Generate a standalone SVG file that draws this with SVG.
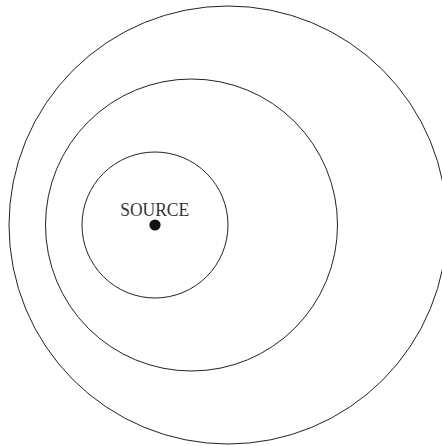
<svg xmlns="http://www.w3.org/2000/svg" width="442" height="446" viewBox="0 0 442 446">
<style>
.wave{fill:none;stroke:#222;stroke-width:1}
.lbl{font-family:"Liberation Serif","Times New Roman",serif;font-size:18.5px;fill:#333}
</style>
<rect width="442" height="446" fill="#fff"/>
<g id="wavefronts">
<circle id="wave-outer" class="wave" cx="228" cy="225" r="219"/>
<circle id="wave-middle" class="wave" cx="191.5" cy="225" r="146"/>
<circle id="wave-inner" class="wave" cx="155" cy="225" r="73"/>
</g>
<g id="source">
<circle cx="155" cy="225" r="5.6" fill="#111"/>
<text class="lbl" x="154.7" y="216.3" text-anchor="middle" textLength="69" lengthAdjust="spacingAndGlyphs">SOURCE</text>
</g>
</svg>
